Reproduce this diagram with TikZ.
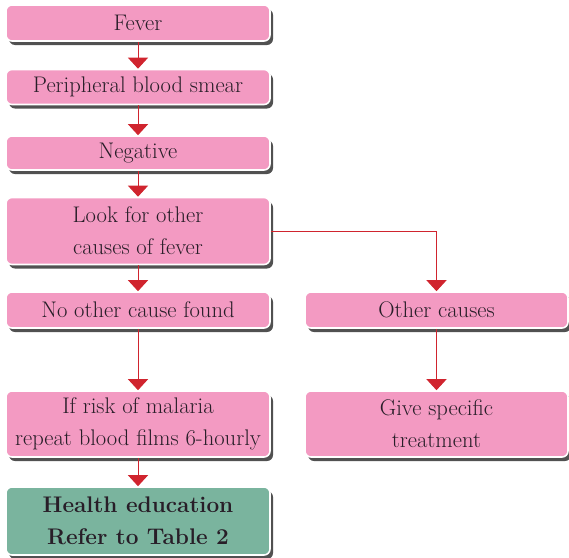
\documentclass[tikz,border=0pt]{standalone}
\usepackage{xcolor}
\usepackage{tikz}
\usetikzlibrary{shadows,arrows.meta}

\definecolor{boxpink}{RGB}{243,154,194}
\definecolor{boxgreen}{RGB}{122,180,158}
\definecolor{arrred}{RGB}{208,36,46}
\definecolor{txtdark}{RGB}{40,30,40}

\tikzset{
    flowbox/.style={draw=white, line width=1.6pt, fill=boxpink, rounded corners=6pt,
        minimum width=264pt, align=center, inner sep=2pt, text=txtdark,
        font=\fontsize{22.6}{32}\selectfont,
        drop shadow={shadow xshift=3pt, shadow yshift=-4pt, fill=black!85, opacity=0.8}},
    flowarrow/.style={draw=arrred, line width=1pt, -{Triangle[width=20pt,length=11pt]}}
}

\begin{document}
\begin{tikzpicture}[x=1pt, y=-1pt]
    \useasboundingbox (0,0) rectangle (569,557);

    % Left column
    \node[flowbox, minimum height=36pt] (fever) at (138,23) {Fever};
    \node[flowbox, minimum height=35pt] (smear) at (138,87) {Peripheral blood smear};
    \node[flowbox, minimum height=34pt] (negative) at (138,153) {Negative};
    \node[flowbox, minimum height=67pt] (lookfor) at (138,231) {Look for other\\causes of fever};
    \node[flowbox, minimum height=36pt] (nocause) at (138,310) {No other cause found};
    \node[flowbox, minimum height=66pt] (risk) at (138,424) {If risk of malaria\\repeat blood films 6-hourly};
    \node[flowbox, fill=boxgreen, minimum height=68pt, font=\fontsize{22.6}{32}\selectfont\bfseries] (health) at (138,521) {Health education\\Refer to Table 2};

    % Right column
    \node[flowbox, minimum width=263pt, minimum height=36pt] (othercause) at (436.5,310) {Other causes};
    \node[flowbox, minimum width=263pt, minimum height=66pt] (specific) at (436.5,424) {Give specific\\treatment};

    % Arrows
    \draw[flowarrow] (fever) -- (smear);
    \draw[flowarrow] (smear) -- (negative);
    \draw[flowarrow] (negative) -- (lookfor);
    \draw[flowarrow] (lookfor) -- (nocause);
    \draw[flowarrow] (nocause) -- (risk);
    \draw[flowarrow] (risk) -- (health);
    \draw[flowarrow] (lookfor.east) -| (othercause.north);
    \draw[flowarrow] (othercause) -- (specific);
\end{tikzpicture}
\end{document}
